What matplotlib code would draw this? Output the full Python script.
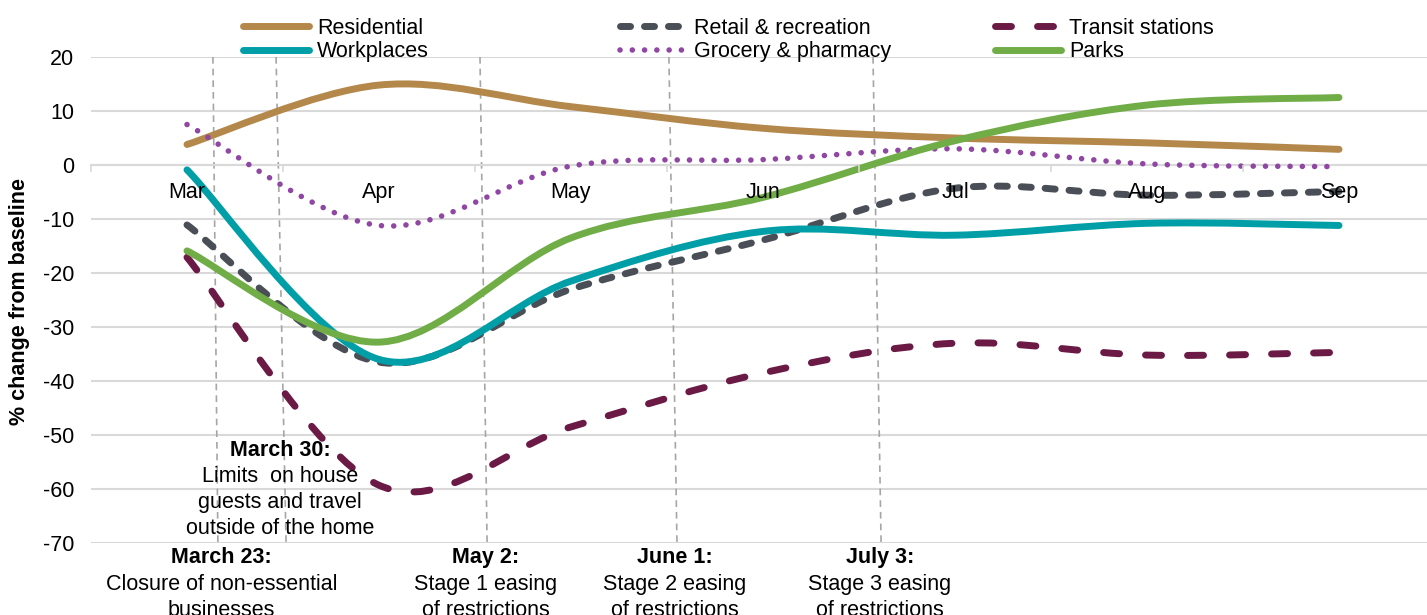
import numpy as np
import matplotlib
matplotlib.use("Agg")
import matplotlib.pyplot as plt
from matplotlib.path import Path
from matplotlib.patches import PathPatch
from matplotlib.lines import Line2D

plt.rcParams['font.family'] = ['Liberation Sans', 'DejaVu Sans']
plt.rcParams['axes.unicode_minus'] = False

# --- data (monthly values, % change from baseline) ---
months = ["Mar", "Apr", "May", "Jun", "Jul", "Aug", "Sep"]
residential = [3.8, 14.8, 10.8, 6.8, 5.0, 4.1, 2.9]
retail = [-11.1, -36.5, -23.0, -13.9, -4.3, -5.6, -4.9]
transit = [-17.1, -59.3, -48.5, -38.5, -33.0, -35.2, -34.7]
workplaces = [-0.9, -36.0, -21.5, -12.3, -13.0, -10.8, -11.2]
grocery = [7.5, -11.2, -0.2, 1.0, 3.0, 0.2, -0.3]
parks = [-15.9, -32.8, -13.5, -6.0, 4.5, 11.1, 12.5]

# --- policy events ---
event_titles = ["March 23:", "March 30:", "May 2:", "June 1:", "July 3:"]
event_texts = ["Closure of non-essential\nbusinesses",
               "Limits  on house\nguests and travel\noutside of the home",
               "Stage 1 easing\nof restrictions",
               "Stage 2 easing\nof restrictions",
               "Stage 3 easing\nof restrictions"]
event_x_top = [0.135, 0.464, 1.526, 2.510, 3.573]
event_x_bottom = [0.161, 0.516, 1.563, 2.552, 3.615]
event_text_x = [0.18, 0.485, 1.557, 2.542, 3.609]

FS = 15.5


def smooth_path(ys):
    # Catmull-Rom style bezier through the monthly points (like Excel's smoothed line)
    pts = np.column_stack([np.arange(len(ys)), ys]).astype(float)
    ext = np.vstack([pts[0], pts, pts[-1]])
    verts = [pts[0]]
    codes = [Path.MOVETO]
    for i in range(len(pts) - 1):
        p0, p1, p2, p3 = ext[i], ext[i + 1], ext[i + 2], ext[i + 3]
        verts += [p1 + (p2 - p0) / 6, p2 - (p3 - p1) / 6, p2]
        codes += [Path.CURVE4] * 3
    return Path(verts, codes)


series = [
    ("Residential", residential, "#B4884A", 5.0, "-"),
    ("Retail & recreation", retail, "#4A4F57", 5.0, (0, (1.45, 2.0))),
    ("Transit stations", transit, "#6B1A46", 5.0, (0, (2.3, 3.75))),
    ("Workplaces", workplaces, "#009FA8", 5.0, "-"),
    ("Grocery & pharmacy", grocery, "#8F47A3", 4.0, (0, (0.01, 2.2))),
    ("Parks", parks, "#70AD47", 5.0, "-"),
]

fig = plt.figure(figsize=(14.27, 6.15), dpi=100)
ax = fig.add_axes([91 / 1427, 72 / 615, 1344 / 1427, 486 / 615])

handles = {}
for i, (name, vals, color, lw, ls) in enumerate(series):
    patch = PathPatch(smooth_path(vals), fill=False, edgecolor=color, lw=lw,
                      linestyle=ls, capstyle='round', joinstyle='round', zorder=3 + i)
    ax.add_patch(patch)
    handles[name] = Line2D([], [], color=color, lw=lw, linestyle=ls,
                           solid_capstyle='round', dash_capstyle='round')

# event lines
for xt, xb in zip(event_x_top, event_x_bottom):
    ax.plot([xt, xb], [20, -70], color="#A6A6A6", lw=1.2, ls=(0, (4, 3)), zorder=2)

ax.set_xlim(-0.5, 6.5)
ax.set_ylim(-70, 20)
ax.set_yticks(range(-70, 21, 10))
ax.yaxis.grid(True, color="#D9D9D9", lw=1.5)
ax.set_axisbelow(True)
ax.tick_params(axis='y', length=0, pad=12, labelsize=FS)

for s in ["top", "right", "left"]:
    ax.spines[s].set_visible(False)
ax.spines["bottom"].set_position(("data", 0))
ax.spines["bottom"].set_color("#D9D9D9")
ax.spines["bottom"].set_linewidth(1.5)

ax.set_xticks(np.arange(-0.5, 7, 1))
ax.set_xticklabels([])
ax.tick_params(axis='x', which='major', length=5, color="#D9D9D9", width=1.2)
ax.set_xticks(range(len(months)), minor=True)
ax.set_xticklabels(months, minor=True)
ax.tick_params(axis='x', which='minor', length=0, pad=12, labelsize=FS)
ax.xaxis.set_zorder(20)

fig.text(20 / 1427, 1 - 302 / 615, "% change from baseline", rotation=90,
         fontweight='bold', fontsize=FS, ha='center', va='center')

# event annotations
for k, (title, body, xt) in enumerate(zip(event_titles, event_texts, event_text_x)):
    if k == 1:
        ty, by = -52.8, -55.8
    else:
        ty, by = -72.7, -75.8
    ax.text(xt, ty, title, fontweight='bold', fontsize=FS, ha='center', va='center',
            clip_on=False, zorder=25)
    ax.text(xt, by, body, fontsize=FS, ha='center', va='top', linespacing=1.3,
            clip_on=False, zorder=25)

# legend in three columns
cols = [("Residential", "Workplaces", 243),
        ("Retail & recreation", "Grocery & pharmacy", 620),
        ("Transit stations", "Parks", 995)]
for a, b, xpx in cols:
    fig.legend([handles[a], handles[b]], [a, b], loc='upper left',
               bbox_to_anchor=(xpx / 1427, 1 - 18 / 615), frameon=False,
               fontsize=FS, handlelength=3.07, handletextpad=0.37,
               labelspacing=0.1, borderpad=0, borderaxespad=0)

fig.savefig("out.png", dpi=100)
